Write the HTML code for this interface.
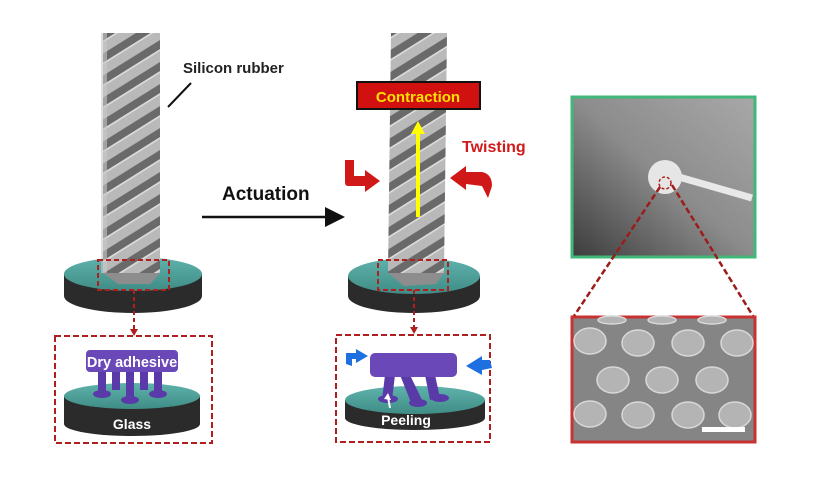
<!DOCTYPE html>
<html><head><meta charset="utf-8"><style>
html,body{margin:0;padding:0;background:#fff}
svg{display:block}
text{font-family:"Liberation Sans",Arial,sans-serif;font-weight:bold}
</style></head><body>
<svg width="827" height="489" viewBox="0 0 827 489" xmlns="http://www.w3.org/2000/svg">
<defs>
<pattern id="st" width="60" height="22" patternUnits="userSpaceOnUse" patternTransform="skewY(-32)">
<rect width="60" height="22" fill="#b9b9b9"/>
<rect y="8" width="60" height="9" fill="#6a6a6a"/>
<rect y="17" width="60" height="2" fill="#dadada"/>
</pattern>
<linearGradient id="gl" x1="0" y1="0" x2="0" y2="1"><stop offset="0" stop-color="#5fb3ac"/><stop offset="1" stop-color="#3f8c86"/></linearGradient>
<linearGradient id="ph" x1="1" y1="0" x2="0" y2="1"><stop offset="0" stop-color="#a8a8a8"/><stop offset="0.5" stop-color="#8c8c8c"/><stop offset="1" stop-color="#3c3c3c"/></linearGradient>
<marker id="ah" markerWidth="8" markerHeight="8" refX="6" refY="4" orient="auto"><path d="M0,0 L8,4 L0,8z" fill="#111"/></marker>
</defs>

<!-- LEFT disk -->
<ellipse cx="133" cy="296" rx="69" ry="17" fill="#2b2b2b"/>
<rect x="64" y="274" width="138" height="22" fill="#2b2b2b"/>
<ellipse cx="133" cy="274" rx="69" ry="17" fill="url(#gl)"/>
<rect x="103" y="33" width="57" height="240" fill="url(#st)"/>
<rect x="101" y="33" width="6" height="240" fill="#c8c8c8" opacity="0.6"/>
<polygon points="103,273 160,273 150,284 118,284" fill="#8d8d8d"/>
<rect x="98" y="260" width="71" height="30" fill="none" stroke="#b01e1e" stroke-width="2" stroke-dasharray="5,3"/>
<line x1="134" y1="290" x2="134" y2="333" stroke="#b01e1e" stroke-width="2" stroke-dasharray="4,3"/>
<path d="M130,329 L138,329 L134,336z" fill="#b01e1e"/>
<rect x="55" y="336" width="157" height="107" fill="none" stroke="#b01e1e" stroke-width="2" stroke-dasharray="6,3"/>
<!-- inner left -->
<ellipse cx="132" cy="424" rx="68" ry="12" fill="#2b2b2b"/>
<rect x="64" y="396" width="136" height="28" fill="#2b2b2b"/>
<ellipse cx="132" cy="396" rx="68" ry="13" fill="url(#gl)"/>
<g fill="#5a3aa8">
<rect x="98" y="370" width="8" height="22"/><rect x="112" y="370" width="8" height="20"/><rect x="126" y="370" width="8" height="28"/><rect x="140" y="370" width="8" height="20"/><rect x="154" y="370" width="8" height="22"/>
<ellipse cx="102" cy="394" rx="9" ry="4"/><ellipse cx="130" cy="400" rx="9" ry="4"/><ellipse cx="158" cy="394" rx="9" ry="4"/>
</g>
<rect x="86" y="350" width="92" height="22" rx="4" fill="#6a48b8"/>
<text x="132" y="367" font-size="14.5" fill="#fff" text-anchor="middle">Dry adhesive</text>
<text x="132" y="429" font-size="14" fill="#fff" text-anchor="middle">Glass</text>

<text x="183" y="73" font-size="15" fill="#222">Silicon rubber</text>
<line x1="168" y1="107" x2="191" y2="83" stroke="#111" stroke-width="2"/>

<text x="222" y="200" font-size="19" fill="#111">Actuation</text>
<line x1="202" y1="217" x2="340" y2="217" stroke="#111" stroke-width="2.5" marker-end="url(#ah)"/>

<!-- MIDDLE -->
<ellipse cx="414" cy="296" rx="66" ry="17" fill="#2b2b2b"/>
<rect x="348" y="276" width="132" height="20" fill="#2b2b2b"/>
<ellipse cx="414" cy="276" rx="66" ry="18" fill="url(#gl)"/>
<polygon points="391,33 447,33 444,273 388,273" fill="url(#st)"/>
<polygon points="388,273 444,273 436,284 404,286" fill="#8d8d8d"/>
<rect x="378" y="260" width="70" height="30" fill="none" stroke="#b01e1e" stroke-width="2" stroke-dasharray="5,3"/>
<line x1="414" y1="290" x2="414" y2="331" stroke="#b01e1e" stroke-width="2" stroke-dasharray="4,3"/>
<path d="M410,327 L418,327 L414,334z" fill="#b01e1e"/>
<rect x="336" y="335" width="154" height="107" fill="none" stroke="#b01e1e" stroke-width="2" stroke-dasharray="6,3"/>
<ellipse cx="415" cy="418" rx="70" ry="12" fill="#2b2b2b"/>
<rect x="345" y="400" width="140" height="18" fill="#2b2b2b"/>
<ellipse cx="415" cy="400" rx="70" ry="14" fill="url(#gl)"/>
<g fill="#5a3aa8">
<polygon points="385,375 395,375 392,400 382,400"/><polygon points="400,375 410,375 422,400 412,405"/><polygon points="425,375 435,375 440,398 430,400"/>
<ellipse cx="388" cy="399" rx="10" ry="4"/><ellipse cx="418" cy="403" rx="9" ry="4"/><ellipse cx="440" cy="398" rx="9" ry="4"/>
</g>
<rect x="370" y="353" width="87" height="24" rx="5" fill="#6a48b8"/>
<path d="M346,364 L346,353 L356,353 L356,349 L368,356 L356,363 L356,359 L352,359 L352,366z" fill="#1e6fe0"/>
<path d="M490,360 L482,360 L482,356 L466,366 L482,375 L482,370 L492,368z" fill="#1e6fe0"/>
<line x1="390" y1="408" x2="388" y2="397" stroke="#fff" stroke-width="2"/>
<path d="M384,399 L388,393 L391,400z" fill="#fff"/>
<text x="406" y="425" font-size="14" fill="#fff" text-anchor="middle">Peeling</text>

<rect x="357" y="82" width="123" height="27" fill="#d11010" stroke="#111" stroke-width="2"/>
<text x="418" y="102" font-size="15" fill="#ffe100" text-anchor="middle">Contraction</text>
<line x1="418" y1="217" x2="418" y2="132" stroke="#ffff00" stroke-width="4"/>
<path d="M411,134 L418,121 L425,134z" fill="#ffff00"/>
<text x="462" y="152" font-size="16" fill="#d11a1a">Twisting</text>
<path d="M345,160 L354,160 L354,176 L365,176 L365,170 L380,181 L365,192 L365,186 L348,186 Q345,186 345,182z" fill="#d01818"/>
<path d="M450,178 L466,166 L466,172 L482,172 Q492,174 492,186 L488,198 L482,186 L466,184 L466,190z" fill="#d01818"/>

<!-- RIGHT -->
<rect x="572" y="97" width="183" height="160" fill="url(#ph)" stroke="#3fb87a" stroke-width="3"/>
<line x1="672" y1="175" x2="752" y2="198" stroke="#e8e8e8" stroke-width="7"/>
<circle cx="665" cy="177" r="17" fill="#e6e6e6"/>
<circle cx="665" cy="183" r="6" fill="none" stroke="#b01e1e" stroke-width="1.5" stroke-dasharray="3,2"/>
<line x1="660" y1="187" x2="574" y2="316" stroke="#9c1c1c" stroke-width="2.5" stroke-dasharray="6,3"/>
<line x1="672" y1="185" x2="753" y2="316" stroke="#9c1c1c" stroke-width="2.5" stroke-dasharray="6,3"/>
<rect x="572" y="317" width="183" height="125" fill="#858585" stroke="#c83232" stroke-width="3"/>
<g fill="#b4b4b4" stroke="#d8d8d8" stroke-width="1.5">
<ellipse cx="612" cy="320" rx="14" ry="4"/><ellipse cx="662" cy="320" rx="14" ry="4"/><ellipse cx="712" cy="320" rx="14" ry="4"/>
<ellipse cx="590" cy="341" rx="16" ry="13"/><ellipse cx="638" cy="343" rx="16" ry="13"/><ellipse cx="688" cy="343" rx="16" ry="13"/><ellipse cx="737" cy="343" rx="16" ry="13"/>
<ellipse cx="613" cy="380" rx="16" ry="13"/><ellipse cx="662" cy="380" rx="16" ry="13"/><ellipse cx="712" cy="380" rx="16" ry="13"/>
<ellipse cx="590" cy="414" rx="16" ry="13"/><ellipse cx="638" cy="415" rx="16" ry="13"/><ellipse cx="688" cy="415" rx="16" ry="13"/><ellipse cx="735" cy="415" rx="16" ry="13"/>
</g>
<rect x="702" y="427" width="43" height="5" fill="#fff"/>
</svg>
</body></html>
